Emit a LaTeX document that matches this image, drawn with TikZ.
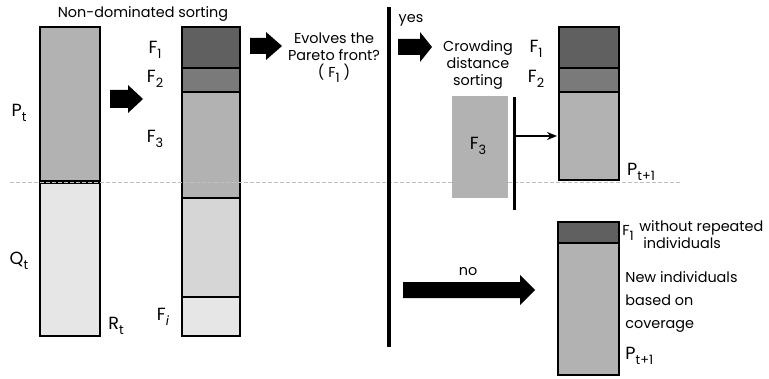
\documentclass[tikz,border=0pt]{standalone}
\usepackage{fontspec}
\setmainfont{Poppins}
\usepackage{xcolor}
\usetikzlibrary{arrows.meta, positioning, calc}

\definecolor{fone}{HTML}{606060}
\definecolor{ftwo}{HTML}{7A7A7A}
\definecolor{fthree}{HTML}{B2B2B2}
\definecolor{ffour}{HTML}{D6D6D6}
\definecolor{flast}{HTML}{E6E6E6}

\tikzset{
  box/.style={draw=black, line width=1.4pt},
  lbl/.style={font=\fontsize{7.2}{8.5}\selectfont, inner sep=0pt},
  sym/.style={font=\fontsize{8.8}{9}\selectfont, inner sep=0pt}
}

% lowered subscript as in the figure
\newcommand{\sbs}[1]{\raisebox{-2.6pt}{\fontsize{6.4}{6}\selectfont #1}}

% block arrow: x start, x head, x tip, y centre, half shaft, half head
\newcommand{\blockarr}[6]{%
  \fill[black] (#1,#4-#5) -- (#2,#4-#5) -- (#2,#4-#6) -- (#3,#4)
    -- (#2,#4+#6) -- (#2,#4+#5) -- (#1,#4+#5) -- cycle;}

\begin{document}
\begin{tikzpicture}[x=0.5pt, y=-0.5pt]
\useasboundingbox (0,0) rectangle (769,379);

% P_t and Q_t
\draw[box, fill=fthree] (40,27) rectangle (100,181);
\draw[box, fill=flast] (40,183) rectangle (100,336);
\node[sym] (pt) at (19,113) {P\sbs{t}};
\node[sym] (qt) at (19,261) {Q\sbs{t}};
\node[sym] (rt) at (116,326) {R\sbs{t}};
\node[lbl] (nds) at (143,14) {Non-dominated sorting};

% fronts after sorting
\foreach \ya/\yb/\c in {27/68/fone, 68/92/ftwo, 92/198/fthree, 198/297/ffour, 297/336/flast} {
  \draw[box, fill=\c] (182,\ya) rectangle (240,\yb);
}
\node[sym] (fa) at (155,50) {F\sbs{1}};
\node[sym] (fb) at (155,79) {F\sbs{2}};
\node[sym] (fc) at (155,139) {F\sbs{3}};
\node[sym] (fi) at (163,317) {F\sbs{\textit{i}}};

% dotted separation
\draw[gray!50, dash pattern=on 2pt off 1pt] (10,182) -- (680,182);

% block arrows
\blockarr{110}{128}{143}{99}{9}{14}
\blockarr{250}{266}{282}{46}{8}{14}
\node[lbl, align=center] (evo) at (334,58) {Evolves the\\Pareto front?\\( F\sbs{1} )};

% decision line
\draw[line width=1.6pt] (389,7) -- (389,347);
\node[lbl] (yes) at (411,20) {yes};
\blockarr{398}{420}{432}{47}{8}{15}
\node[lbl, align=center] (crowd) at (478,65) {Crowding\\distance\\sorting};

% crowding of F_3
\fill[fthree] (452,96) rectangle (508,198);
\node[sym] (fcc) at (478,146) {F\sbs{3}};
\draw[line width=1.5pt] (514,97) -- (514,210);
\coordinate (cut) at (514,136);

% next population (yes)
\foreach \ya/\yb/\c in {27/68/fone, 68/92/ftwo, 92/180/fthree} {
  \draw[box, fill=\c] (559,\ya) rectangle (619,\yb);
}
\coordinate (pnext) at (557,136);
\draw[line width=0.9pt, -{Stealth[length=5pt, width=4pt]}] (cut) -- (pnext);
\node[sym] (fd) at (536,49) {F\sbs{1}};
\node[sym] (fe) at (536,79) {F\sbs{2}};
\node[sym] (pa) at (641,172) {P\sbs{t+1}};

% next population (no)
\blockarr{403}{520}{535}{290}{8}{15}
\node[lbl] (no) at (468,272) {no};
\draw[box, fill=fone] (558,222) rectangle (619,243);
\draw[box, fill=fthree] (558,243) rectangle (619,375);
\node[lbl, anchor=west] (ff) at (622,233) {F\sbs{1}};
\node[lbl, anchor=west, align=left] (wo) at (639,235) {without repeated\\\hspace{2pt}individuals};
\node[lbl, anchor=west, align=left] (newi) at (625,302) {New individuals\\[3pt]based on\\[3pt]coverage};
\node[sym, anchor=west] (pb) at (625,356) {P\sbs{t+1}};
\end{tikzpicture}
\end{document}
